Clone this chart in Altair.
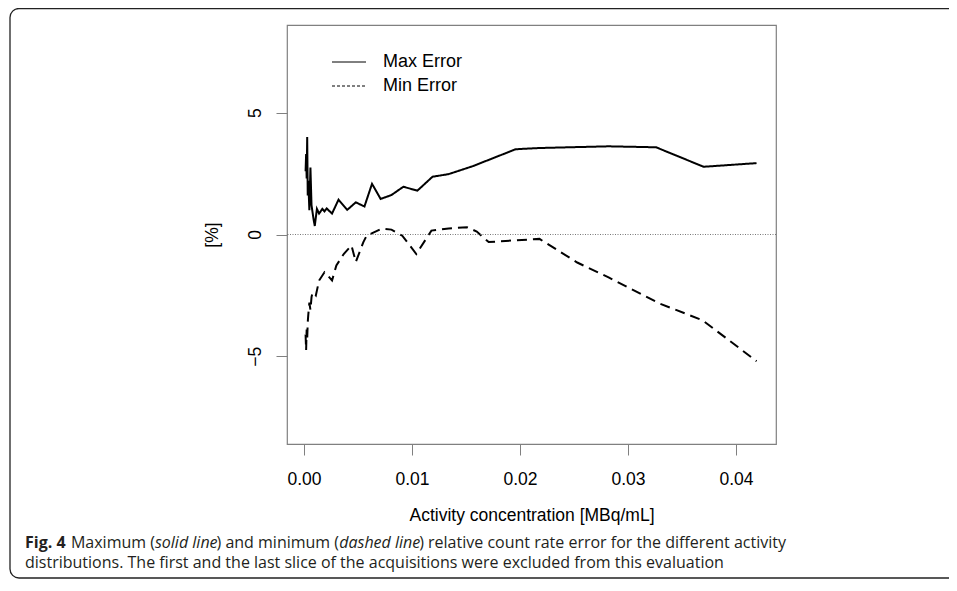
import altair as alt
import pandas as pd

# ---------------- data ----------------
conc_max = [0.00015, 0.0002, 0.00025, 0.0003, 0.00035, 0.0004, 0.0005, 0.0006, 0.0007, 0.0008,
            0.0009, 0.0010, 0.0012, 0.0014, 0.0017, 0.0019, 0.0021, 0.0026, 0.0032, 0.0040,
            0.0048, 0.0056, 0.0063, 0.0071, 0.0081, 0.0092, 0.0105, 0.0119, 0.0134, 0.0156,
            0.0196, 0.0218, 0.0282, 0.0326, 0.0370, 0.0419]
err_max = [2.6, 3.3, 2.3, 4.0, 1.6, 2.2, 1.0, 2.75, 1.2, 0.9,
           0.6, 0.35, 1.05, 0.86, 1.05, 0.95, 1.07, 0.86, 1.43, 1.01,
           1.32, 1.15, 2.08, 1.46, 1.62, 1.96, 1.80, 2.37, 2.48, 2.80,
           3.50, 3.55, 3.62, 3.58, 2.78, 2.93]

conc_min = [0.00015, 0.0002, 0.00025, 0.0003, 0.00035, 0.0004, 0.0005, 0.0006, 0.0007, 0.0008,
            0.0011, 0.0014, 0.0019, 0.0022, 0.0026, 0.0030, 0.0037, 0.0044, 0.0048, 0.0055,
            0.0058, 0.0072, 0.0081, 0.0091, 0.0104, 0.0118, 0.0134, 0.0151, 0.0160, 0.0171,
            0.0192, 0.0218, 0.0253, 0.0282, 0.0329, 0.0369, 0.0419]
err_min = [-4.1, -4.75, -3.9, -4.3, -3.6, -3.3, -2.8, -3.1, -2.57, -2.37,
           -2.5, -1.89, -1.55, -1.68, -1.89, -1.27, -0.79, -0.45, -1.13, -0.31,
           -0.05, 0.24, 0.2, -0.05, -0.8, 0.16, 0.25, 0.3, 0.12, -0.31,
           -0.25, -0.18, -1.15, -1.76, -2.83, -3.52, -5.2]

series_names = ["Max Error", "Min Error"]
x_ticks = [0.0, 0.01, 0.02, 0.03, 0.04]
y_ticks = [-5, 0, 5]
x_title = "Activity concentration [MBq/mL]"
y_title = "[%]"

cap_line1 = [("Fig. 4", "bold", "normal"),
             (" Maximum (", "normal", "normal"),
             ("solid line", "normal", "italic"),
             (") and minimum (", "normal", "normal"),
             ("dashed line", "normal", "italic"),
             (") relative count rate error for the different activity", "normal", "normal")]
cap_line2 = "distributions. The first and the last slice of the acquisitions were excluded from this evaluation"

# ---------------- layout ----------------
W, H = 489, 419
PAD = {"left": 279, "top": 17, "right": 173, "bottom": 136}
RFONT = "Liberation Sans"
RFS = 17.5
CFONT = "Open Sans"
CFS = 16

# approximate Open Sans advance widths (units / 2048) to place the mixed-style caption pieces
_OS = {' ': 532, '(': 596, ')': 596, ',': 502, '.': 545, 'a': 1139, 'b': 1255, 'c': 975, 'd': 1255,
       'e': 1149, 'f': 694, 'g': 1122, 'h': 1257, 'i': 518, 'j': 518, 'k': 1075, 'l': 518, 'm': 1905,
       'n': 1257, 'o': 1237, 'p': 1255, 'q': 1255, 'r': 836, 's': 977, 't': 723, 'u': 1257,
       'v': 1026, 'w': 1593, 'x': 1073, 'y': 1028, 'z': 977, 'M': 1823, 'T': 1149, 'F': 1065, '4': 1171}


def text_w(s, weight, style):
    w = sum(_OS.get(ch, 1100) for ch in s) / 2048.0 * CFS
    if weight == "bold":
        w *= 1.08
    if style == "italic":
        w *= 0.93
    return w


xs = alt.Scale(domain=[-0.00157, 0.0437], nice=False, zero=False)
ys = alt.Scale(domain=[-8.6, 8.6], nice=False, zero=False)

df = pd.concat([
    pd.DataFrame({"conc": conc_max, "err": err_max, "series": series_names[0]}),
    pd.DataFrame({"conc": conc_min, "err": err_min, "series": series_names[1]}),
], ignore_index=True)

lines = alt.Chart(df).mark_line(color="black", strokeWidth=2, clip=True).encode(
    x=alt.X("conc:Q", scale=xs,
            axis=alt.Axis(values=x_ticks, format=".2f", title=x_title, grid=False, domain=False,
                          tickSize=11, tickColor="#808080", tickWidth=1,
                          labelFont=RFONT, labelFontSize=RFS, labelColor="black", labelPadding=15,
                          labelFlush=False, labelOverlap=False,
                          titleFont=RFONT, titleFontSize=RFS, titleFontWeight="normal", titleColor="black",
                          titleY=71, titleBaseline="middle")),
    y=alt.Y("err:Q", scale=ys,
            axis=alt.Axis(values=y_ticks, title=y_title, grid=False, domain=False,
                          tickSize=11, tickColor="#808080", tickWidth=1,
                          labelFont=RFONT, labelFontSize=RFS, labelColor="black",
                          labelAngle=270, labelAlign="center", labelBaseline="middle", labelPadding=21,
                          labelFlush=False, labelOverlap=False,
                          titleFont=RFONT, titleFontSize=RFS, titleFontWeight="normal", titleColor="black",
                          titleAngle=270, titleX=-75, titleY=H / 2, titleAlign="center",
                          titleBaseline="middle")),
    strokeDash=alt.StrokeDash("series:N", scale=alt.Scale(domain=series_names, range=[[1, 0], [10, 6]]),
                              legend=None),
    detail="series:N",
)

zero_rule = alt.Chart(pd.DataFrame({"err": [0]})).mark_rule(
    color="#555555", strokeWidth=0.8, strokeDash=[1, 1.5]).encode(
    y=alt.Y("err:Q", scale=ys))

one = pd.DataFrame({"k": [0]})

leg1_line = alt.Chart(one).mark_rule(color="black", strokeWidth=1).encode(
    x=alt.value(45), x2=alt.value(79), y=alt.value(37))
leg2_line = alt.Chart(one).mark_rule(color="black", strokeWidth=1, strokeDash=[3, 2]).encode(
    x=alt.value(45), x2=alt.value(79), y=alt.value(61))
leg1_txt = alt.Chart(one).mark_text(align="left", baseline="middle", font=RFONT, fontSize=RFS + 0.5,
                                    color="black", text=series_names[0]).encode(x=alt.value(96), y=alt.value(37))
leg2_txt = alt.Chart(one).mark_text(align="left", baseline="middle", font=RFONT, fontSize=RFS + 0.5,
                                    color="black", text=series_names[1]).encode(x=alt.value(96), y=alt.value(61))

border = alt.Chart(one).mark_rect(fillOpacity=0, stroke="#222222", strokeWidth=1.3, cornerRadius=9).encode(
    x=alt.value(-277), x2=alt.value(672), y=alt.value(-16.5), y2=alt.value(553))

cap_layers = []
cx = -262.0
for txt, weight, style in cap_line1:
    lead = len(txt) - len(txt.lstrip(" "))
    body = txt.strip(" ")
    x0 = cx + text_w(" " * lead, "normal", "normal")
    cap_layers.append(
        alt.Chart(one).mark_text(align="left", baseline="middle", font=CFONT, fontSize=CFS,
                                 fontWeight=weight, fontStyle=style, color="#231f20", text=body)
        .encode(x=alt.value(x0), y=alt.value(518)))
    cx += text_w(txt, weight, style)
cap_layers.append(
    alt.Chart(one).mark_text(align="left", baseline="middle", font=CFONT, fontSize=CFS,
                             color="#231f20", text=cap_line2)
    .encode(x=alt.value(-262), y=alt.value(538)))

chart = alt.layer(lines, zero_rule, leg1_line, leg2_line, leg1_txt, leg2_txt, border, *cap_layers).properties(
    width=W, height=H, autosize=alt.AutoSizeParams(type="none"), padding=PAD, background="white"
).configure_view(stroke="#808080", strokeWidth=1.2)

chart.save("out.html", embed_options={"renderer": "svg", "actions": False})
